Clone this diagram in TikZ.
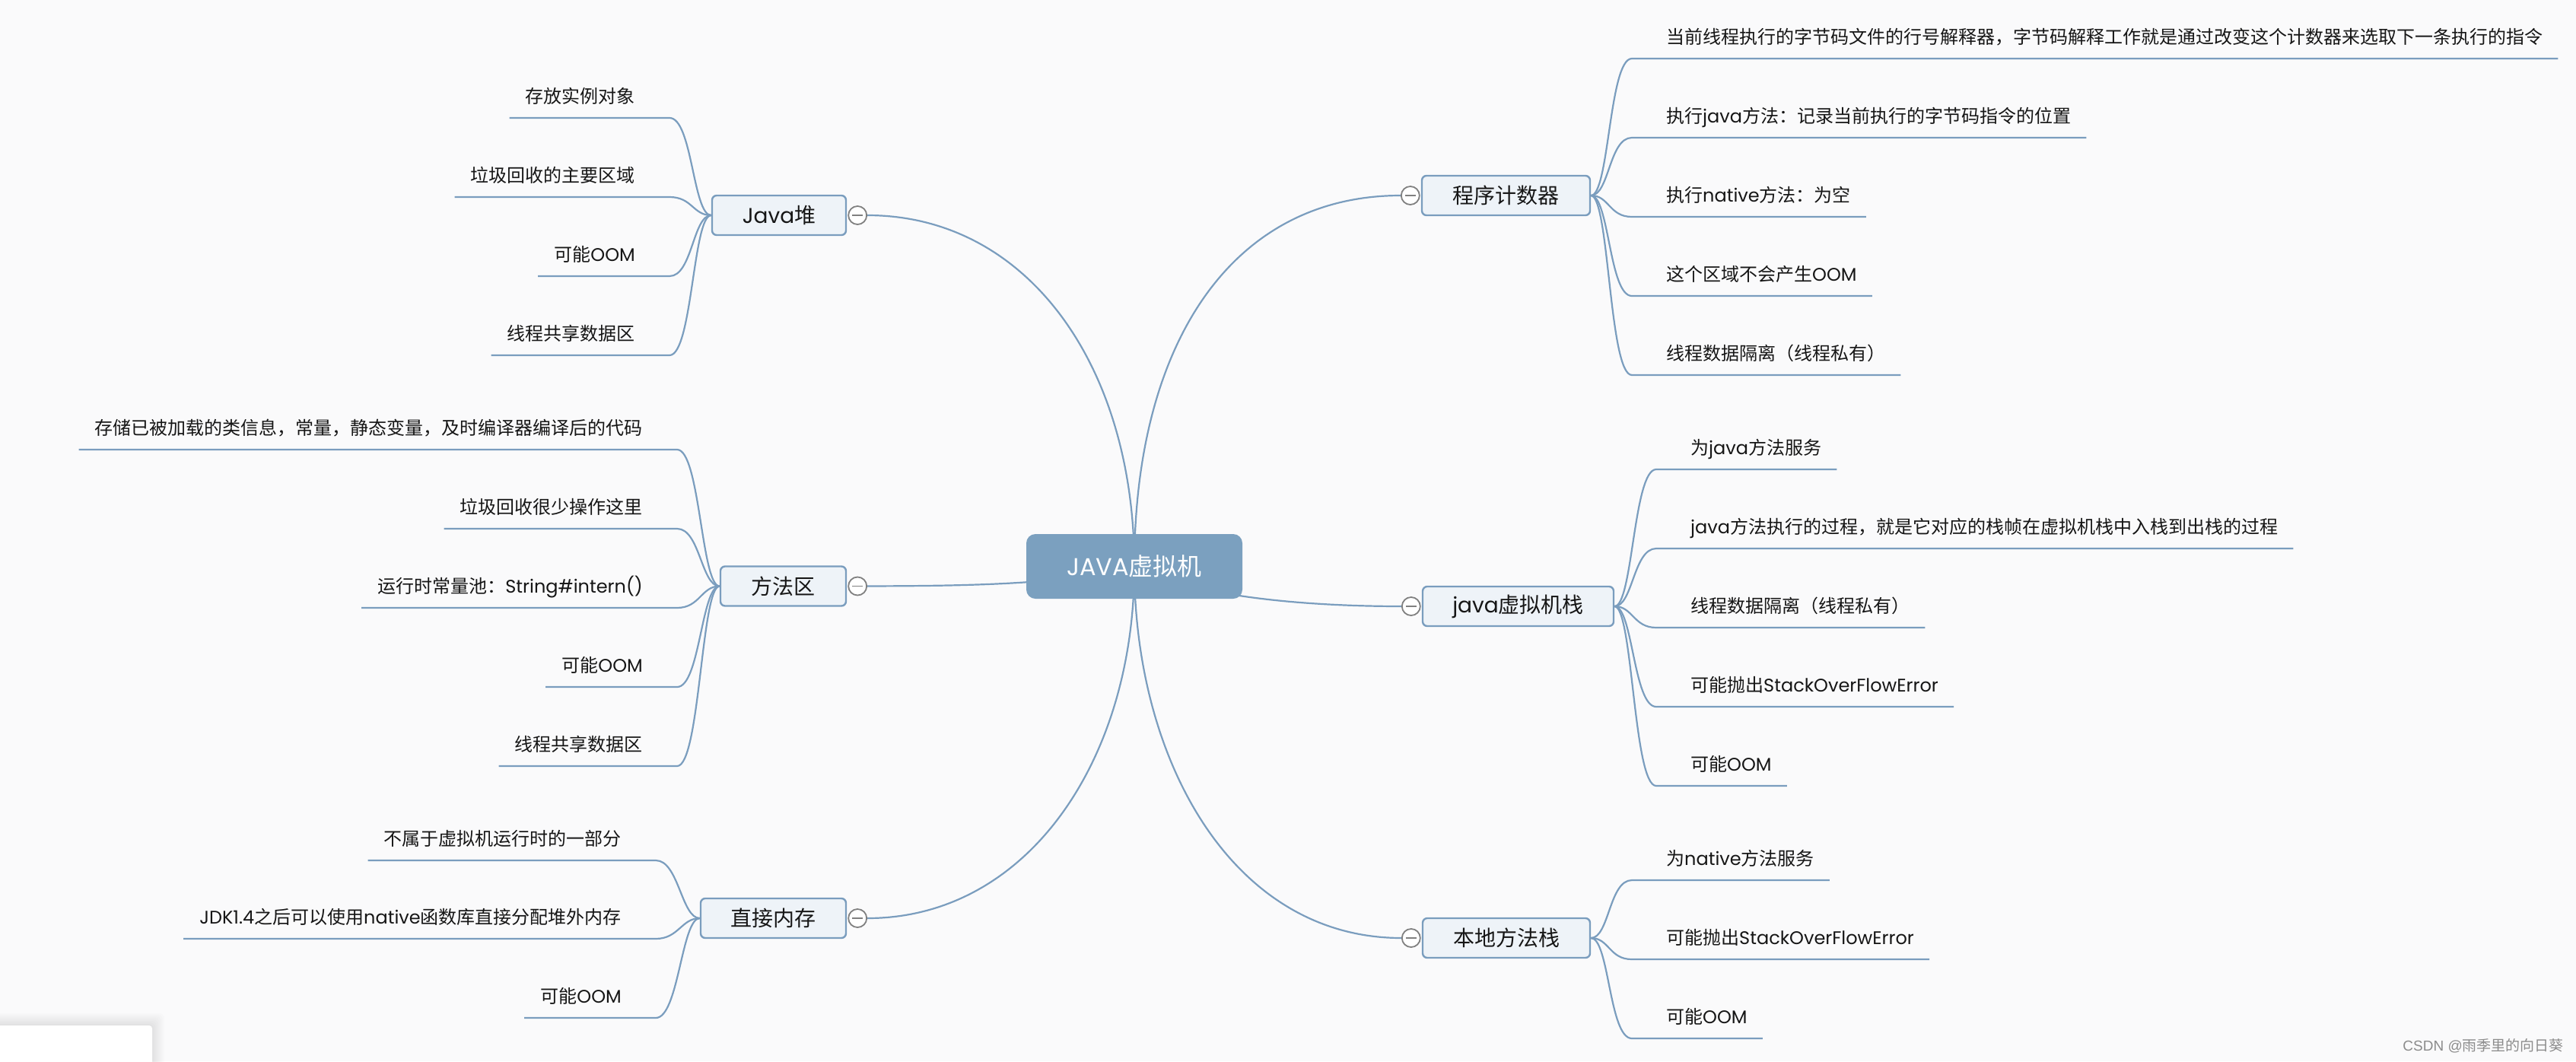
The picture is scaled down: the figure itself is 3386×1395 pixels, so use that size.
\documentclass[tikz,border=0pt]{standalone}
\usepackage{fontspec}
\setmainfont{Noto Sans CJK SC}
\newfontfamily\latf{Poppins}
\newfontfamily\arialf{Liberation Sans}
\newcommand\lat[1]{{\latf #1}}
\usetikzlibrary{calc,backgrounds}
\definecolor{connc}{RGB}{122,157,190}
\definecolor{boxfill}{RGB}{238,243,248}
\definecolor{rootc}{RGB}{123,160,191}
\definecolor{cgray}{RGB}{128,128,128}
\definecolor{txt}{RGB}{22,22,22}
\definecolor{bgc}{RGB}{250,250,251}
\tikzset{
  conn/.style={draw=connc, line width=2.2pt},
  rootbox/.style={fill=rootc, rounded corners=12pt, minimum width=284pt, minimum height=85pt, inner sep=0pt, text=white, font=\fontsize{32}{36}\selectfont},
  branch/.style={draw=connc, fill=boxfill, line width=2.4pt, rounded corners=6pt, minimum height=52pt, inner sep=0pt, text=txt, font=\fontsize{28}{32}\selectfont},
  leaf/.style={inner sep=0pt, text=txt, font=\fontsize{24}{28}\selectfont},
  collapse/.style={circle, draw=cgray, fill=white, line width=1.8pt, minimum size=24pt, inner sep=0pt,
    path picture={\draw[cgray, line width=1.8pt] ([xshift=5pt]path picture bounding box.west) -- ([xshift=-5pt]path picture bounding box.east);}}
}
% right leaf: name, parent, x start, y underline, text
\newcommand\rleaf[5]{%
  \coordinate (#1s) at (#3,#4);
  \node[leaf, anchor=base west] (#1) at ([xshift=45pt,yshift=20pt]#1s) {#5};
  \coordinate (#1e) at ([xshift=20pt,yshift=-20pt]#1.base east);
  \draw[conn] (#2.east) .. controls +(24,0) and +(-30,0) .. (#1s) -- (#1e);
}
% left leaf: name, parent, x end, y underline, text
\newcommand\lleaf[5]{%
  \coordinate (#1e) at (#3,#4);
  \node[leaf, anchor=base east] (#1) at ([xshift=-45pt,yshift=20pt]#1e) {#5};
  \coordinate (#1s) at ([xshift=-21pt,yshift=-20pt]#1.base west);
  \draw[conn] (#1s) -- (#1e) .. controls +(30,0) and +(-24,0) .. (#2.west);
}
\begin{document}
\begin{tikzpicture}[x=1pt,y=-1pt]
\useasboundingbox (0,0) rectangle (3386,1395);
\begin{scope}[on background layer]
  \fill[bgc] (0,0) rectangle (3386,1395);
\end{scope}

% bottom-left UI panel with soft shadow
\foreach \k in {1,...,8}{
  \fill[black, opacity=0.012, rounded corners=6pt] (-20,{1348-2*\k}) rectangle ({200+2*\k},1420);
}
\fill[white, rounded corners=4pt] (-20,1348) rectangle (200,1420);

% root
\node[rootbox] (root) at (1491,744.5) {\lat{JAVA}虚拟机};

% branches
\node[branch, minimum width=176pt] (jh) at (1024,283) {\lat{Java}堆};
\node[branch, minimum width=165pt] (mf) at (1029.5,770.5) {方法区};
\node[branch, minimum width=191pt] (zj) at (1016.5,1207) {直接内存};
\node[branch, minimum width=221pt] (pc) at (1979.5,257) {程序计数器};
\node[branch, minimum width=251pt] (jvs) at (1995.5,797) {\lat{java}虚拟机栈};
\node[branch, minimum width=220pt] (nms) at (1980,1233) {本地方法栈};

% collapse markers
\node[collapse] (jhc) at ([xshift=14pt]jh.east) {};
\node[collapse] (mfc) at ([xshift=14pt]mf.east) {};
\node[collapse] (zjc) at ([xshift=14pt]zj.east) {};
\node[collapse] (pcc) at ([xshift=-14pt]pc.west) {};
\node[collapse] (jvsc) at ([xshift=-14pt]jvs.west) {};
\node[collapse] (nmsc) at ([xshift=-14pt]nms.west) {};

% main connectors (behind nodes)
\begin{scope}[on background layer]
  \draw[conn] (root.center) .. controls (1491,480) and (1350,283) .. (jhc.east);
  \draw[conn] (root.center) .. controls (1491,450) and (1620,257) .. (pcc.west);
  \draw[conn] (root.center) .. controls (1400,770) and (1250,770) .. (mfc.east);
  \draw[conn] (root.center) .. controls (1580,790) and (1750,797) .. (jvsc.west);
  \draw[conn] (root.center) .. controls (1491,1000) and (1350,1207) .. (zjc.east);
  \draw[conn] (root.center) .. controls (1491,1000) and (1620,1233) .. (nmsc.west);
\end{scope}

% 程序计数器
\rleaf{p1}{pc}{2145}{77}{当前线程执行的字节码文件的行号解释器，字节码解释工作就是通过改变这个计数器来选取下一条执行的指令}
\rleaf{p2}{pc}{2145}{181}{执行\lat{java}方法：记录当前执行的字节码指令的位置}
\rleaf{p3}{pc}{2145}{285}{执行\lat{native}方法：为空}
\rleaf{p4}{pc}{2145}{389}{这个区域不会产生\lat{OOM}}
\rleaf{p5}{pc}{2145}{493}{线程数据隔离（线程私有）}

% java虚拟机栈
\rleaf{j1}{jvs}{2177}{617}{为\lat{java}方法服务}
\rleaf{j2}{jvs}{2177}{721}{\lat{java}方法执行的过程，就是它对应的栈帧在虚拟机栈中入栈到出栈的过程}
\rleaf{j3}{jvs}{2177}{825}{线程数据隔离（线程私有）}
\rleaf{j4}{jvs}{2177}{929}{可能抛出\lat{StackOverFlowError}}
\rleaf{j5}{jvs}{2177}{1033}{可能\lat{OOM}}

% 本地方法栈
\rleaf{n1}{nms}{2145}{1157}{为\lat{native}方法服务}
\rleaf{n2}{nms}{2145}{1261}{可能抛出\lat{StackOverFlowError}}
\rleaf{n3}{nms}{2145}{1365}{可能\lat{OOM}}

% Java堆
\lleaf{h1}{jh}{880}{155}{存放实例对象}
\lleaf{h2}{jh}{880}{259}{垃圾回收的主要区域}
\lleaf{h3}{jh}{880}{363}{可能\lat{OOM}}
\lleaf{h4}{jh}{880}{467}{线程共享数据区}

% 方法区
\lleaf{m1}{mf}{890}{591}{存储已被加载的类信息，常量，静态变量，及时编译器编译后的代码}
\lleaf{m2}{mf}{890}{695}{垃圾回收很少操作这里}
\lleaf{m3}{mf}{890}{799}{运行时常量池：\lat{String\#intern()}}
\lleaf{m4}{mf}{890}{903}{可能\lat{OOM}}
\lleaf{m5}{mf}{890}{1007}{线程共享数据区}

% 直接内存
\lleaf{z1}{zj}{862}{1131}{不属于虚拟机运行时的一部分}
\lleaf{z2}{zj}{862}{1234}{\lat{JDK1.4}之后可以使用\lat{native}函数库直接分配堆外内存}
\lleaf{z3}{zj}{862}{1338}{可能\lat{OOM}}

% watermark
\node[anchor=east, inner sep=0pt, text=black!45, font=\fontsize{19}{22}\selectfont] (wm) at (3370,1375) {{\arialf CSDN @}雨季里的向日葵};
\end{tikzpicture}
\end{document}
